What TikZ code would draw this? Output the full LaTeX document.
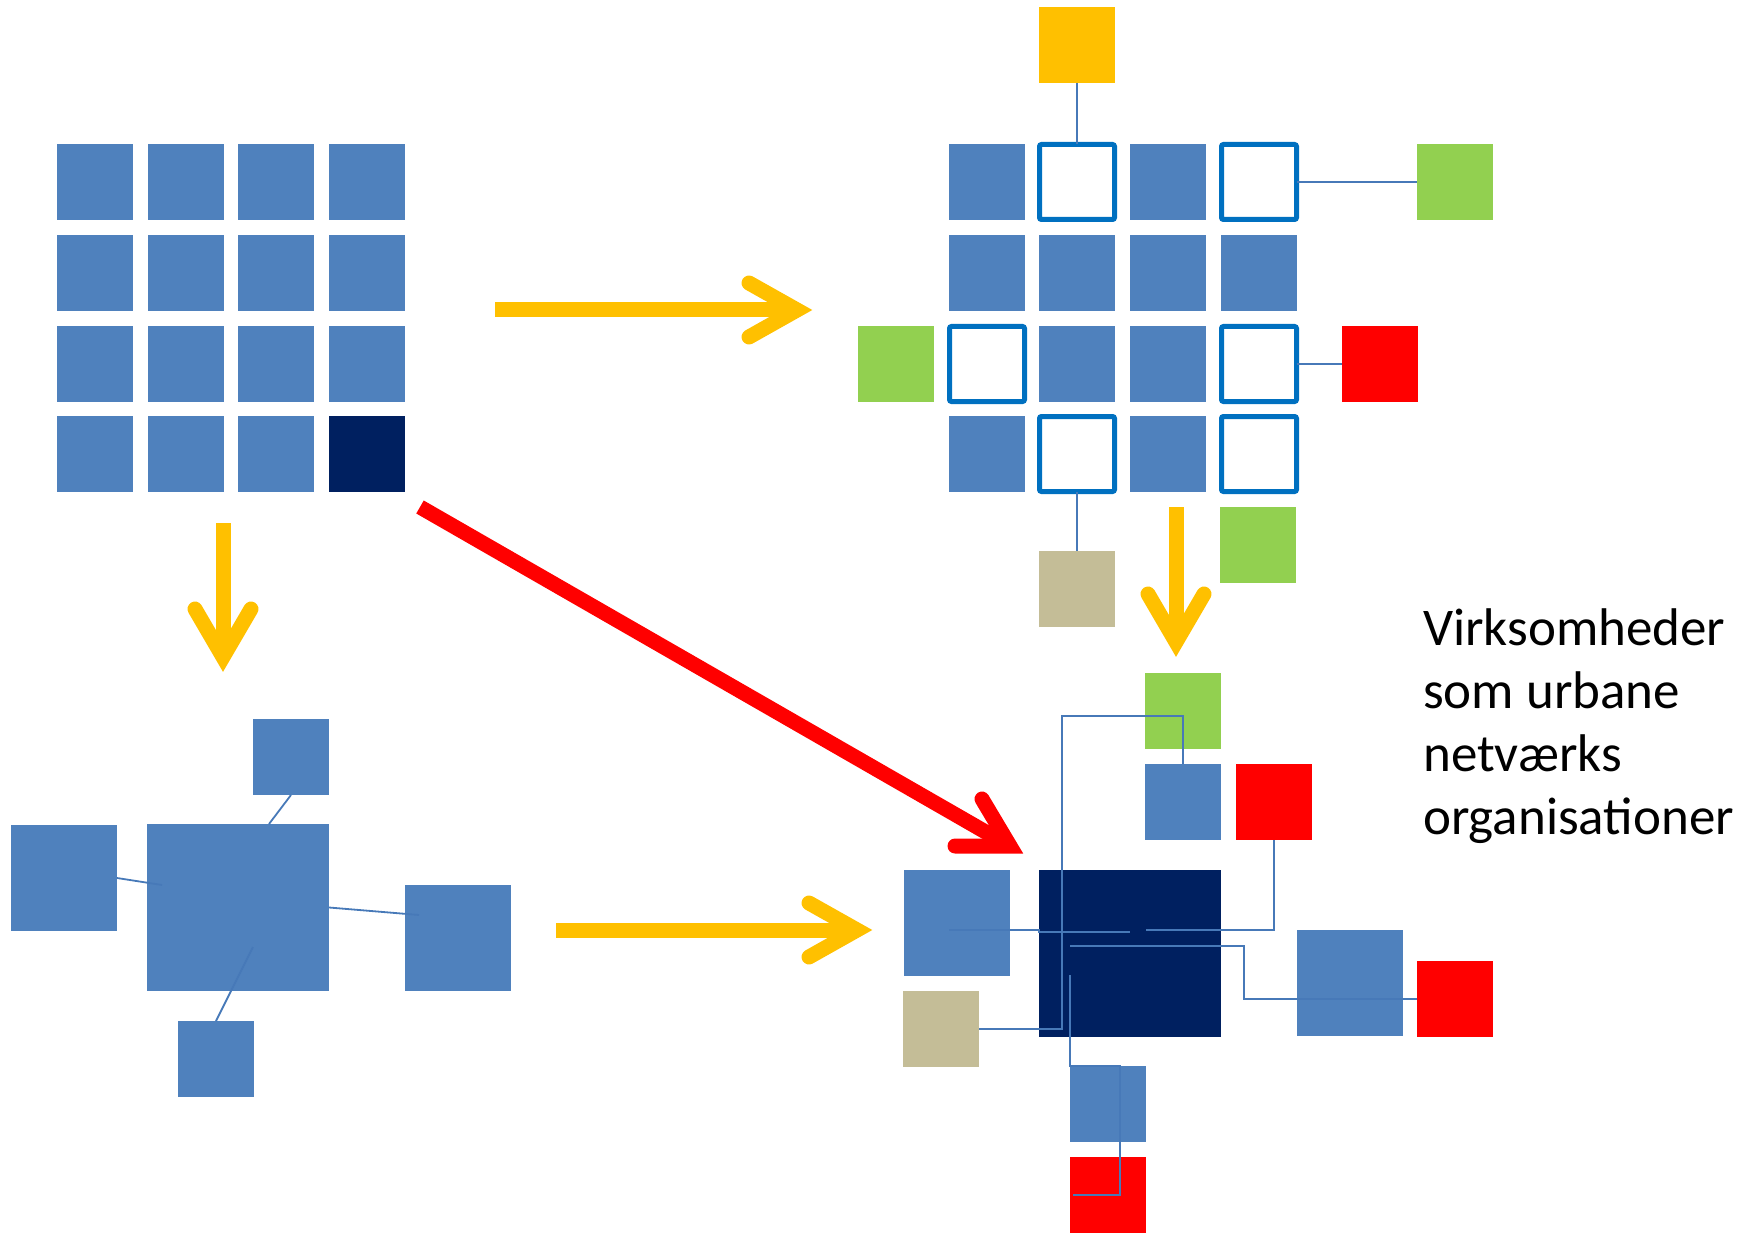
\documentclass[tikz,border=0pt]{standalone}
\usepackage{fontspec}
\setmainfont{Carlito}
\usetikzlibrary{calc}
\definecolor{cblue}{HTML}{4F81BD}
\definecolor{cdark}{HTML}{002060}
\definecolor{cout}{HTML}{0070C0}
\definecolor{cgreen}{HTML}{92D050}
\definecolor{cred}{HTML}{FF0000}
\definecolor{cbeige}{HTML}{C4BD97}
\definecolor{cyellow}{HTML}{FFC000}
\definecolor{cline}{HTML}{4779B8}
\begin{document}
\begin{tikzpicture}[x=1pt,y=-1pt,
  box/.style={minimum width=76pt,minimum height=76pt,inner sep=0pt,outer sep=0pt},
  bluebox/.style={box,fill=cblue},
  darkbox/.style={box,fill=cdark},
  openbox/.style={box,fill=white,draw=cout,line width=5pt,rounded corners=2pt,minimum width=75pt,minimum height=75pt},
  greenbox/.style={box,fill=cgreen},
  redbox/.style={box,fill=cred},
  beigebox/.style={box,fill=cbeige},
  yellowbox/.style={box,fill=cyellow},
  midbox/.style={minimum width=106pt,minimum height=106pt},
  bigbox/.style={minimum width=182pt,minimum height=167pt},
  thin/.style={draw=cline,line width=1.8pt},
  yarr/.style={draw=cyellow,line width=15pt,line cap=butt},
  yhead/.style={draw=cyellow,line width=15pt,line cap=round,line join=miter},
  rarr/.style={draw=cred,line width=15pt,line cap=butt},
  rhead/.style={draw=cred,line width=15pt,line cap=round,line join=miter}
]
\useasboundingbox (0,0) rectangle (1754,1233);

% ---- top-left grid
\foreach \r/\y in {1/182,2/273,3/364,4/454}{
  \foreach \c/\x in {1/95,2/186,3/276,4/367}{
    \node[bluebox] (tl\r\c) at (\x,\y) {};
  }
}
\node[darkbox] (tlD) at (367,454) {};

% ---- top-right grid
\node[bluebox] (tr11) at (987,182) {};
\node[openbox] (tr12) at (1077,182) {};
\node[bluebox] (tr13) at (1168,182) {};
\node[openbox] (tr14) at (1259,182) {};
\node[bluebox] (tr21) at (987,273) {};
\node[bluebox] (tr22) at (1077,273) {};
\node[bluebox] (tr23) at (1168,273) {};
\node[bluebox] (tr24) at (1259,273) {};
\node[openbox] (tr31) at (987,364) {};
\node[bluebox] (tr32) at (1077,364) {};
\node[bluebox] (tr33) at (1168,364) {};
\node[openbox] (tr34) at (1259,364) {};
\node[bluebox] (tr41) at (987,454) {};
\node[openbox] (tr42) at (1077,454) {};
\node[bluebox] (tr43) at (1168,454) {};
\node[openbox] (tr44) at (1259,454) {};
\node[yellowbox] (trY) at (1077,45) {};
\node[greenbox] (trGR) at (1455,182) {};
\node[greenbox] (trGL) at (896,364) {};
\node[redbox] (trRR) at (1380,364) {};
\node[beigebox] (trBe) at (1077,589) {};
\node[greenbox] (trGB) at (1258,545) {};
\draw[thin] (trY.south) -- (tr12.north);
\draw[thin] (tr14.east) -- (trGR.west);
\draw[thin] (tr34.east) -- (trRR.west);
\draw[thin] (tr42.south) -- (trBe.north);

% ---- bottom-left cluster
\node[bluebox] (blT) at (291,757) {};
\node[bluebox,bigbox] (blC) at (238,907.5) {};
\node[bluebox,midbox] (blL) at (64,878) {};
\node[bluebox,midbox] (blR) at (458,938) {};
\node[bluebox] (blB) at (216,1059) {};
\draw[thin] (blT.south) -- ($(blC.north west)+(122,0)$);
\draw[thin] (blL.east) -- ($(blC.north west)+(15,61)$);
\draw[thin] (blC.east) -- ($(blR.west)+(14,-23)$);
\draw[thin] ($(blC.north west)+(106,123)$) -- (blB.north);

% ---- bottom-right cluster
\node[greenbox] (brG) at (1183,711) {};
\node[bluebox] (brS) at (1183,802) {};
\node[redbox] (brRT) at (1274,802) {};
\node[bluebox,midbox] (brL) at (957,922.5) {};
\node[darkbox,bigbox] (brD) at (1130,953.5) {};
\node[beigebox] (brBe) at (941,1029) {};
\node[bluebox,midbox] (brR) at (1350,983) {};
\node[redbox] (brRR) at (1455,999) {};
\node[bluebox] (brB) at (1108,1104) {};
\node[redbox] (brRB) at (1108,1195) {};
\draw[thin] (brBe.east) -- ++(83,0) |- ($(brS.north)+(0,-48)$) -- (brS.north);
\draw[thin] ($(brL.center)+(-8,7.5)$) -- ++(90,0) -- ++(0,2) -- ++(91,0);
\draw[thin] (brRT.south) -- ++(0,90) -- ++(-128,0);
\draw[thin] (brRR.west) -- ++(-173,0) -- ++(0,-53) -- ++(-174,0);
\draw[thin] ($(brRB.west)+(3,0)$) -- ++(47,0) -- ++(0,-129) -- ++(-50,0) -- ++(0,-91);

% ---- arrows
\coordinate (a1s) at (495,310);
\coordinate (a1v) at (797,310);
\draw[yarr] (a1s) -- (a1v);
\draw[yhead] ($(a1v)+(-48,-27)$) -- (a1v) -- ($(a1v)+(-48,27)$);

\coordinate (a2s) at (556,930);
\coordinate (a2v) at (857,930);
\draw[yarr] (a2s) -- (a2v);
\draw[yhead] ($(a2v)+(-48,-27)$) -- (a2v) -- ($(a2v)+(-48,27)$);

\coordinate (a3s) at (223,523);
\coordinate (a3v) at (223,657);
\draw[yarr] (a3s) -- (a3v);
\draw[yhead] ($(a3v)+(-28,-48)$) -- (a3v) -- ($(a3v)+(28,-48)$);

\coordinate (a4s) at (1176,507);
\coordinate (a4v) at (1176,642);
\draw[yarr] (a4s) -- (a4v);
\draw[yhead] ($(a4v)+(-28,-48)$) -- (a4v) -- ($(a4v)+(28,-48)$);

\coordinate (a5s) at (420,507);
\coordinate (a5v) at (1010,846);
\draw[rarr] (a5s) -- (a5v);
\draw[rhead] ($(a5v)+(-28,-47)$) -- (a5v) -- ($(a5v)+(-55,0)$);

% ---- text
\node[anchor=base west,inner sep=0pt] (txt) at (1423,645)
  {\fontsize{53}{63}\selectfont\begin{tabular}[t]{@{}l@{}}Virksomheder\\som urbane\\netværks\\organisationer\end{tabular}};
\end{tikzpicture}
\end{document}
